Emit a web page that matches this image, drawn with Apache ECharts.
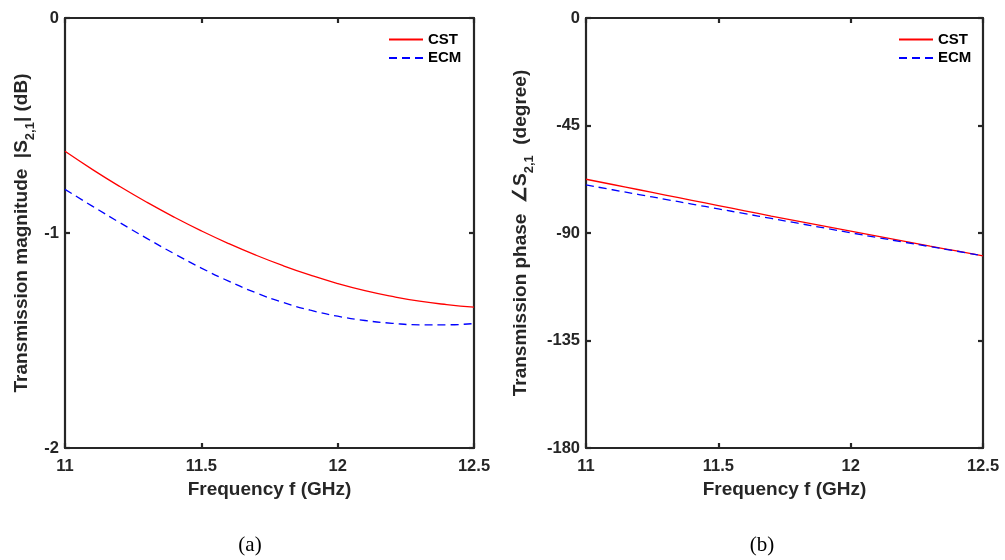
<!DOCTYPE html>
<html>
<head>
<meta charset="utf-8">
<script src="https://cdn.jsdelivr.net/npm/echarts@6/dist/echarts.min.js"></script>
<style>
html,body{margin:0;padding:0;background:#fff;}
#c{width:1005px;height:560px;}
</style>
</head>
<body>
<div id="c"></div>
<script>
// ---- data ----
const freq = [11.0, 11.1, 11.2, 11.3, 11.4, 11.5, 11.6, 11.7, 11.8, 11.9, 12.0, 12.1, 12.2, 12.3, 12.4, 12.5];
const magCST = [-0.620, -0.704, -0.783, -0.857, -0.926, -0.990, -1.049, -1.103, -1.152, -1.196, -1.235, -1.268, -1.295, -1.317, -1.333, -1.345];
const magECM = [-0.797, -0.875, -0.951, -1.025, -1.096, -1.163, -1.224, -1.278, -1.323, -1.359, -1.387, -1.407, -1.420, -1.427, -1.427, -1.421];
const phaseCST = [-67.5, -69.7, -71.9, -74.1, -76.3, -78.5, -80.7, -82.9, -85.0, -87.1, -89.2, -91.3, -93.4, -95.5, -97.5, -99.6];
const phaseECM = [-69.9, -71.9, -73.9, -75.9, -77.9, -79.9, -81.9, -83.9, -85.9, -87.9, -89.9, -91.9, -93.8, -95.7, -97.6, -99.6];
const xTicks = {min: 11, max: 12.5, interval: 0.5};
const magTicks = {min: -2, max: 0, interval: 1};
const phaseTicks = {min: -180, max: 0, interval: 45};
const seriesNames = ['CST', 'ECM'];
const captions = ['(a)', '(b)'];

const pair = (xs, ys) => xs.map((x, i) => [x, ys[i]]);

const AX = '#262626';
const FONT = 'Liberation Sans, Arial, Helvetica, sans-serif';

function xAx(grid, pos, show) {
  return {
    type: 'value', gridIndex: grid, position: pos,
    min: xTicks.min, max: xTicks.max, interval: xTicks.interval,
    name: show ? 'Frequency f (GHz)' : '',
    nameLocation: 'middle', nameGap: 32,
    nameTextStyle: {fontFamily: FONT, fontWeight: 'bold', fontSize: 19, color: AX},
    axisLine: {show: true, onZero: false, lineStyle: {color: AX, width: 2.2}},
    axisTick: {show: true, inside: true, length: 5, lineStyle: {color: AX, width: 2.2}},
    axisLabel: {show: show, margin: 10, fontFamily: FONT, fontWeight: 'bold', fontSize: 16.5, color: AX},
    splitLine: {show: false}
  };
}
function yAx(grid, pos, show, ticks, name) {
  return {
    type: 'value', gridIndex: grid, position: pos,
    min: ticks.min, max: ticks.max, interval: ticks.interval,
    name: show ? name : '',
    nameLocation: 'middle', nameRotate: 90, nameGap: show ? (grid === 0 ? 28 : 50) : 0,
    nameTextStyle: {
      fontFamily: FONT, fontWeight: 'bold', fontSize: 19, color: AX,
      rich: {
        n: {fontFamily: FONT, fontWeight: 'bold', fontSize: 19, color: AX, lineHeight: 22},
        s: {fontFamily: FONT, fontWeight: 'bold', fontSize: 13, color: AX, lineHeight: 30, verticalAlign: 'bottom'}
      }
    },
    axisLine: {show: true, onZero: false, lineStyle: {color: AX, width: 2.2}},
    axisTick: {show: true, inside: true, length: 5, lineStyle: {color: AX, width: 2.2}},
    axisLabel: {show: show, margin: 6, fontFamily: FONT, fontWeight: 'bold', fontSize: 16.5, color: AX},
    splitLine: {show: false}
  };
}
function line(name, xi, yi, data, color, dashed) {
  return {
    name: name, type: 'line', xAxisIndex: xi, yAxisIndex: yi,
    data: data, showSymbol: false, symbol: 'none', smooth: true,
    lineStyle: {color: color, width: 1.3, type: dashed ? [8, 5] : 'solid'},
    itemStyle: {color: color},
    animation: false
  };
}
function legend(left) {
  return {
    data: seriesNames, orient: 'vertical', left: left, top: 32, padding: 0,
    itemWidth: 34, itemHeight: 16, itemGap: 3.4,
    itemStyle: {opacity: 0},
    textStyle: {fontFamily: FONT, fontWeight: 'bold', fontSize: 15, color: '#000'},
    selectedMode: false
  };
}

const chart = echarts.init(document.getElementById('c'), null, {renderer: 'canvas'});
chart.setOption({
  backgroundColor: '#fff',
  animation: false,
  grid: [
    {left: 65, top: 18, width: 409, height: 430},
    {left: 586, top: 18, width: 397, height: 430}
  ],
  xAxis: [xAx(0, 'bottom', true), xAx(0, 'top', false), xAx(1, 'bottom', true), xAx(1, 'top', false)],
  yAxis: [
    yAx(0, 'left', true, magTicks, '{n|Transmission magnitude  |S}{s|2,1}{n|| (dB)}'),
    yAx(0, 'right', false, magTicks, ''),
    yAx(1, 'left', true, phaseTicks, '{n|Transmission phase  ∠S}{s|2,1}{n|  (degree)}'),
    yAx(1, 'right', false, phaseTicks, '')
  ],
  legend: [legend(388), legend(898)],
  series: [
    line(seriesNames[0], 0, 0, pair(freq, magCST), '#ff0000', false),
    line(seriesNames[1], 0, 0, pair(freq, magECM), '#0000ff', true),
    line(seriesNames[0], 2, 2, pair(freq, phaseCST), '#ff0000', false),
    line(seriesNames[1], 2, 2, pair(freq, phaseECM), '#0000ff', true)
  ],
  graphic: [
    {type: 'text', x: 250, y: 545, style: {text: captions[0], font: '21px "Liberation Serif", "Times New Roman", serif', fill: '#000', align: 'center', verticalAlign: 'middle'}},
    {type: 'text', x: 762, y: 545, style: {text: captions[1], font: '21px "Liberation Serif", "Times New Roman", serif', fill: '#000', align: 'center', verticalAlign: 'middle'}}
  ]
});
</script>
</body>
</html>
